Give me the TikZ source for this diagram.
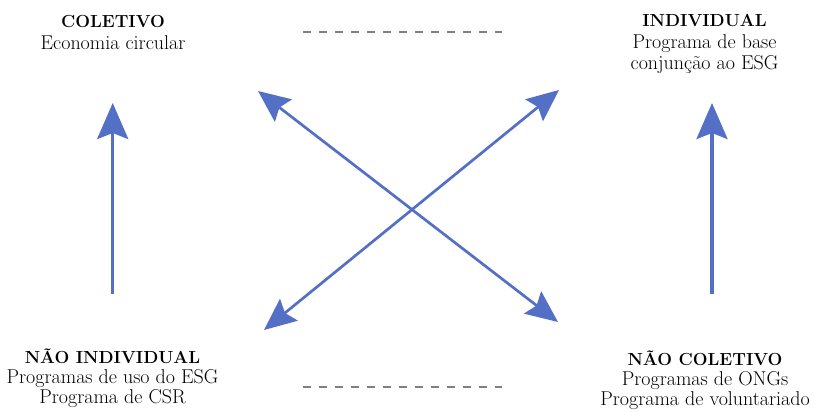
\documentclass[tikz,border=0pt]{standalone}
\usetikzlibrary{arrows.meta}
\definecolor{arrowblue}{RGB}{84,112,198}
\definecolor{dashgray}{RGB}{128,128,128}
\begin{document}
\begin{tikzpicture}[x=1pt,y=-1pt,
  title/.style={font=\fontsize{17.5}{21}\selectfont\bfseries, inner sep=0pt, anchor=base},
  body/.style={font=\fontsize{20}{21}\selectfont, inner sep=0pt, anchor=base},
  uparrow/.style={arrowblue, line width=3.3pt, -{Stealth[length=36pt, width=31pt, inset=6pt]}},
  diagarrow/.style={arrowblue, line width=2.7pt, {Stealth[length=32pt, width=28pt, inset=5pt]}-{Stealth[length=32pt, width=28pt, inset=5pt]}},
  sep/.style={dashgray, line width=2pt, dash pattern=on 8pt off 8pt}]
\useasboundingbox (0,0) rectangle (814,412);
% texts
\node[title] (colT) at (113,28) {COLETIVO};
\node[body]  (colB) at (113,50) {Economia circular};
\node[title] (indT) at (704.5,27) {INDIVIDUAL};
\node[body]  (indB1) at (704.5,48.5) {Programa de base};
\node[body]  (indB2) at (704.5,70) {conjunção ao ESG};
\node[title] (nindT) at (112.5,363) {NÃO INDIVIDUAL};
\node[body]  (nindB1) at (112.5,383) {Programas de uso do ESG};
\node[body]  (nindB2) at (112.5,403) {Programa de CSR};
\node[title] (ncolT) at (705,365) {NÃO COLETIVO};
\node[body]  (ncolB1) at (705,385) {Programas de ONGs};
\node[body]  (ncolB2) at (705,405) {Programa de voluntariado};
% arrow end points
\coordinate (lb) at (112.7,294);
\coordinate (lt) at (112.7,103);
\coordinate (rb) at (712,294);
\coordinate (rt) at (712,103);
\coordinate (nw) at (258,91);
\coordinate (se) at (558,322);
\coordinate (ne) at (559,90);
\coordinate (sw) at (264,330);
\coordinate (d1a) at (303,32);
\coordinate (d1b) at (502,32);
\coordinate (d2a) at (303,387);
\coordinate (d2b) at (502,387);
% connectors
\draw[uparrow] (lb) -- (lt);
\draw[uparrow] (rb) -- (rt);
\draw[diagarrow] (nw) -- (se);
\draw[diagarrow] (ne) -- (sw);
\draw[sep] (d1a) -- (d1b);
\draw[sep] (d2a) -- (d2b);
\end{tikzpicture}
\end{document}
